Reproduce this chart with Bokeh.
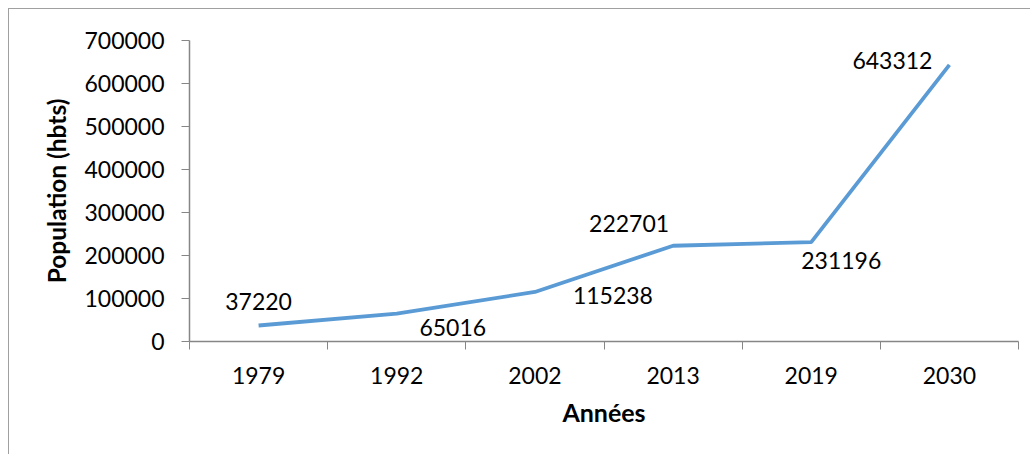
from bokeh.plotting import figure
from bokeh.models import ColumnDataSource, FixedTicker, Range1d, BasicTickFormatter
from bokeh.core.properties import value
from bokeh.embed import file_html
from bokeh.resources import INLINE

# ---- data ----
years = ["1979", "1992", "2002", "2013", "2019", "2030"]
population = [37220, 65016, 115238, 222701, 231196, 643312]
y_ticks = [0, 100000, 200000, 300000, 400000, 500000, 600000, 700000]

# label placement (screen pixel offsets from each point), style only
label_dx = [0, 56, 78, -44, 30, -57]
label_dy = [-24, 14, 4, -22, 18, -4]

FONT = "Lato"
AXIS_COL = "#868686"
LINE_COL = "#5B9BD5"

n = len(years)
xs = [i + 0.5 for i in range(n)]
src = ColumnDataSource(dict(x=xs, y=population,
                            lab=[str(v) for v in population],
                            dx=label_dx, dy=label_dy))

p = figure(width=1022, height=446, output_backend="svg", toolbar_location=None,
           x_range=Range1d(0, n), y_range=Range1d(0, 700000))
p.min_border_left = 180
p.min_border_right = 13
p.min_border_top = 31
p.min_border_bottom = 114
p.outline_line_color = None
p.grid.visible = False
p.background_fill_color = "white"
p.border_fill_color = "white"
p.styles = {"margin-left": "8px", "margin-top": "8px",
            "border-top": "1px solid #a0a0a0", "border-left": "1px solid #a0a0a0"}

p.line("x", "y", source=src, line_color=LINE_COL, line_width=3.8)
p.text("x", "y", text="lab", source=src, x_offset="dx", y_offset="dy",
       text_align="center", text_baseline="middle",
       text_font=value(FONT), text_font_size="23px", text_color="black")

# x axis: labels at category centres, ticks at boundaries
xa = p.xaxis[0]
xa.ticker = FixedTicker(ticks=xs, minor_ticks=list(range(n + 1)))
xa.major_label_overrides = {x: y for x, y in zip(xs, years)}
xa.major_tick_line_color = None
xa.minor_tick_in = 0
xa.minor_tick_out = 8
xa.minor_tick_line_color = AXIS_COL
xa.axis_line_color = AXIS_COL
xa.axis_line_width = 1.5
xa.major_label_text_font = FONT
xa.major_label_text_font_size = "23px"
xa.major_label_text_color = "black"
xa.major_label_standoff = 17
xa.axis_label = "Années"
xa.axis_label_text_font = FONT
xa.axis_label_text_font_style = "bold"
xa.axis_label_text_font_size = "25px"
xa.axis_label_text_color = "black"
xa.axis_label_standoff = 10

ya = p.yaxis[0]
ya.ticker = FixedTicker(ticks=y_ticks)
ya.minor_tick_line_color = None
ya.major_tick_in = 0
ya.major_tick_out = 8
ya.major_tick_line_color = AXIS_COL
ya.axis_line_color = AXIS_COL
ya.axis_line_width = 1.5
ya.major_label_text_font = FONT
ya.major_label_text_font_size = "23px"
ya.major_label_text_color = "black"
ya.major_label_standoff = 17
ya.major_label_orientation = "horizontal"
ya.axis_label = "Population (hbts)"
ya.axis_label_text_font = FONT
ya.axis_label_text_font_style = "bold"
ya.axis_label_text_font_size = "24.5px"
ya.axis_label_text_color = "black"
ya.axis_label_standoff = 10
ya.formatter = BasicTickFormatter(use_scientific=False)

open("out.html", "w").write(file_html(p, INLINE))
